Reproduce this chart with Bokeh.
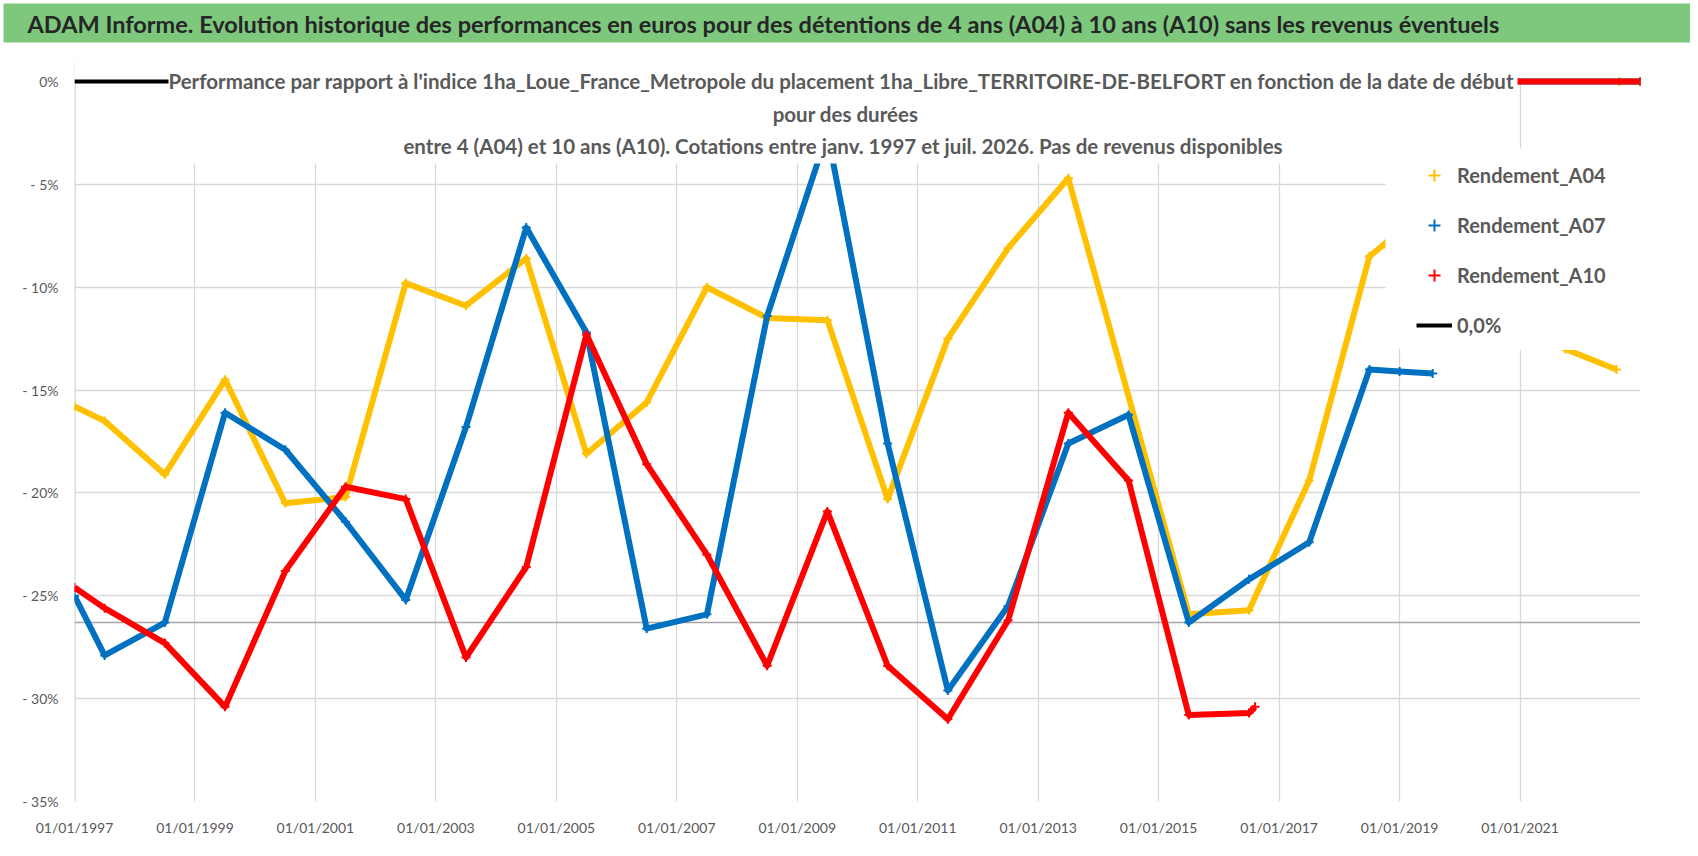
from bokeh.plotting import figure
from bokeh.models import Label, Legend, LegendItem, FixedTicker, Span, BoxAnnotation, Range1d
from bokeh.layouts import column
from bokeh.embed import file_html
from bokeh.resources import INLINE

nan = float("nan")

# ---------------- texts ----------------
TITLE = ("ADAM Informe. Evolution historique des performances en euros pour des "
         "détentions de 4 ans (A04) à 10 ans (A10) sans les revenus éventuels")
SUBTITLE = [
    "Performance par rapport à l'indice 1ha_Loue_France_Metropole  du placement "
    "1ha_Libre_TERRITOIRE-DE-BELFORT en fonction de la date de début",
    "pour des durées",
    "entre 4 (A04) et 10 ans (A10).  Cotations entre janv. 1997 et juil. 2026. Pas de revenus disponibles",
]
series_names = ["Rendement_A04", "Rendement_A07", "Rendement_A10"]
zero_name = "0,0%"

# ---------------- data (decimal years, %) ----------------
a04_dates = [1997.0, 1997.5, 1998.5, 1999.5, 2000.5, 2001.5, 2002.5, 2003.5, 2004.5,
             2005.5, 2006.5, 2007.5, 2008.5, 2009.5, 2010.5, 2011.5, 2012.5, 2013.5,
             2015.5, 2016.5, 2017.5, 2018.5, 2018.75, 2019.5, 2020.5, 2021.75, 2022.6,
             nan, 2022.65, 2023.0]
a04_vals = [-15.8, -16.5, -19.1, -14.5, -20.5, -20.2, -9.8, -10.9, -8.6,
            -18.1, -15.6, -10.0, -11.5, -11.6, -20.3, -12.5, -8.1, -4.7,
            -25.9, -25.7, -19.4, -8.5, -7.9, -9.0, -10.8, -13.0, -14.0,
            nan, 0.0, 0.0]

a07_dates = [1997.0, 1997.5, 1998.5, 1999.5, 2000.5, 2001.5, 2002.5, 2003.5, 2004.5,
             2005.5, 2006.5, 2007.5, 2008.5, 2009.5, 2010.5, 2011.5, 2012.5, 2013.5,
             2014.5, 2015.5, 2016.5, 2017.5, 2018.5, 2019.0, 2019.55,
             nan, 2019.6, 2023.0]
a07_vals = [-25.0, -27.9, -26.3, -16.1, -17.9, -21.4, -25.2, -16.8, -7.1,
            -12.2, -26.6, -25.9, -11.4, -2.5, -17.6, -29.6, -25.5, -17.6,
            -16.2, -26.3, -24.2, -22.4, -14.0, -14.1, -14.2,
            nan, 0.0, 0.0]

a10_dates = [1997.0, 1997.5, 1998.5, 1999.5, 2000.5, 2001.5, 2002.5, 2003.5, 2004.5,
             2005.5, 2006.5, 2007.5, 2008.5, 2009.5, 2010.5, 2011.5, 2012.5, 2013.5,
             2014.5, 2015.5, 2016.5, 2016.6,
             nan, 2016.65, 2023.0]
a10_vals = [-24.6, -25.6, -27.3, -30.4, -23.8, -19.7, -20.3, -28.0, -23.6,
            -12.3, -18.6, -23.0, -28.4, -20.9, -28.4, -31.0, -26.2, -16.1,
            -19.4, -30.8, -30.7, -30.4,
            nan, 0.0, 0.0]

zero_dates = [1997.0, 2023.0]
zero_vals = [0.0, 0.0]

x_ticks = [1997, 1999, 2001, 2003, 2005, 2007, 2009, 2011, 2013, 2015, 2017, 2019, 2021]
x_tick_labels = ["01/01/1997", "01/01/1999", "01/01/2001", "01/01/2003", "01/01/2005",
                 "01/01/2007", "01/01/2009", "01/01/2011", "01/01/2013", "01/01/2015",
                 "01/01/2017", "01/01/2019", "01/01/2021"]
y_ticks = [0, -5, -10, -15, -20, -25, -30, -35]
y_tick_labels = ["0%", "- 5%", "- 10%", "- 15%", "- 20%", "- 25%", "- 30%", "- 35%"]
axis_cross = -26.3
x_start, x_end = 1997.0, 2023.0
y_start, y_zero = -35.0, 0.0

# ---------------- style / geometry (page pixels) ----------------
FONT = "Lato"
COL_A04 = "#FFC000"
COL_A07 = "#0070C0"
COL_A10 = "#FF0000"
GRID = "#d9d9d9"
TXT = "#595959"
GREEN = "#7dc87d"

W = 1690
TOP_H = 45
MAIN_H = 803
FRAME_LEFT, FRAME_RIGHT = 74, 1640
FRAME_TOP, ZERO_Y, FRAME_BOTTOM = 61, 81, 801
ML, MR = FRAME_LEFT, W - FRAME_RIGHT
MT, MB = FRAME_TOP - TOP_H, TOP_H + MAIN_H - FRAME_BOTTOM
ppu = (FRAME_BOTTOM - ZERO_Y) / (y_zero - y_start)
y_top = y_zero + (ZERO_Y - FRAME_TOP) / ppu


def px_x(px):  # page px -> data x
    return x_start + (px - FRAME_LEFT) / (FRAME_RIGHT - FRAME_LEFT) * (x_end - x_start)


def px_y(py):  # page px (from top) -> data y
    return y_zero - (py - ZERO_Y) / ppu


# ---------------- title band ----------------
tb = 3
t = figure(width=W, height=TOP_H, output_backend="svg", toolbar_location=None,
           x_axis_location=None, y_axis_location=None,
           min_border_left=tb, min_border_right=0, min_border_top=tb, min_border_bottom=tb,
           x_range=Range1d(tb, W), y_range=Range1d(TOP_H - tb, tb))
t.frame_align = False
t.grid.visible = False
t.outline_line_color = None
t.background_fill_color = GREEN
t.border_fill_color = "white"
t.add_layout(Label(x=27, y=23, text=TITLE,
                   text_baseline="middle", text_align="left", text_font=FONT,
                   text_font_size="23.5px", text_font_style="bold", text_color="#262626"))

# ---------------- main chart ----------------
p = figure(width=W, height=MAIN_H, output_backend="svg", toolbar_location=None,
           x_range=Range1d(x_start, x_end), y_range=Range1d(y_start, y_top),
           min_border_left=ML, min_border_right=MR, min_border_top=MT, min_border_bottom=MB)
p.frame_align = False
p.outline_line_color = None
p.background_fill_color = "white"
p.border_fill_color = "white"

p.xaxis.ticker = FixedTicker(ticks=x_ticks)
p.xaxis.major_label_overrides = {k: v for k, v in zip(x_ticks, x_tick_labels)}
p.xaxis.axis_line_color = None
p.xaxis.major_tick_line_color = None
p.xaxis.minor_tick_line_color = None
p.xaxis.major_tick_out = 0
p.xaxis.major_label_standoff = 17
p.xaxis.major_label_text_font = FONT
p.xaxis.major_label_text_font_size = "14px"
p.xaxis.major_label_text_color = TXT

p.yaxis.ticker = FixedTicker(ticks=y_ticks)
p.yaxis.major_label_overrides = {k: v for k, v in zip(y_ticks, y_tick_labels)}
p.yaxis.axis_line_color = None
p.yaxis.major_tick_line_color = None
p.yaxis.minor_tick_line_color = None
p.yaxis.major_tick_out = 0
p.yaxis.major_label_standoff = 16
p.yaxis.major_label_text_font = FONT
p.yaxis.major_label_text_font_size = "14px"
p.yaxis.major_label_text_color = TXT

p.xgrid.grid_line_color = GRID
p.xgrid.grid_line_width = 1.3
p.ygrid.grid_line_color = GRID
p.ygrid.grid_line_width = 1.3

# vertical axis line (frame edge) and the horizontal axis crossing line
p.add_layout(Span(location=x_start, dimension="height", line_color=GRID,
                  line_width=2.6, level="underlay"))
p.add_layout(Span(location=axis_cross, dimension="width", line_color="#a6a6a6",
                  line_width=1.6, level="underlay"))
# the plot area ends at 0 %: blank out grid above it
p.add_layout(BoxAnnotation(left=x_start, right=x_end, bottom=y_zero, top=y_top,
                           fill_color="white", fill_alpha=1.0, line_color=None,
                           level="underlay"))

r_zero = p.line(zero_dates, zero_vals, line_color="black", line_width=4)

renderers = []
for dates, vals, col in [(a04_dates, a04_vals, COL_A04),
                         (a07_dates, a07_vals, COL_A07),
                         (a10_dates, a10_vals, COL_A10)]:
    p.line(dates, vals, line_color=col, line_width=6, line_join="round")
    s = p.scatter(dates, vals, marker="cross", size=9, line_width=2, line_color=col)
    renderers.append(s)

# white box behind the chart title (like the Excel title box)
p.add_layout(BoxAnnotation(left=px_x(168), right=px_x(1517), top=y_top, bottom=px_y(163),
                           fill_color="white", fill_alpha=1.0, line_color=None))
# white background of the Excel legend area
p.add_layout(BoxAnnotation(left=px_x(1385), right=x_end, top=px_y(148), bottom=px_y(348),
                           fill_color="white", fill_alpha=1.0, line_color=None))

sub_y = [80, 113, 145]
sub_x = [843.5, 845, 845]
for txt, sx, sy in zip(SUBTITLE, sub_x, sub_y):
    p.add_layout(Label(x=px_x(sx), y=px_y(sy), text=txt, text_align="center",
                       text_baseline="middle", text_font=FONT, text_font_size="20.5px",
                       text_font_style="bold", text_color=TXT))

items = [LegendItem(label=n, renderers=[r]) for n, r in zip(series_names, renderers)]
items.append(LegendItem(label=zero_name, renderers=[r_zero]))
legend = Legend(items=items, location=(1332, 451), orientation="vertical",
                glyph_width=36, glyph_height=30, label_height=30, spacing=20,
                padding=10, margin=0, label_standoff=5,
                border_line_alpha=0, background_fill_color="white", background_fill_alpha=1.0,
                label_text_font=FONT, label_text_font_size="20px",
                label_text_font_style="bold", label_text_color=TXT)
p.add_layout(legend)

layout = column(t, p, spacing=0)
open("out.html", "w").write(file_html(layout, INLINE))
